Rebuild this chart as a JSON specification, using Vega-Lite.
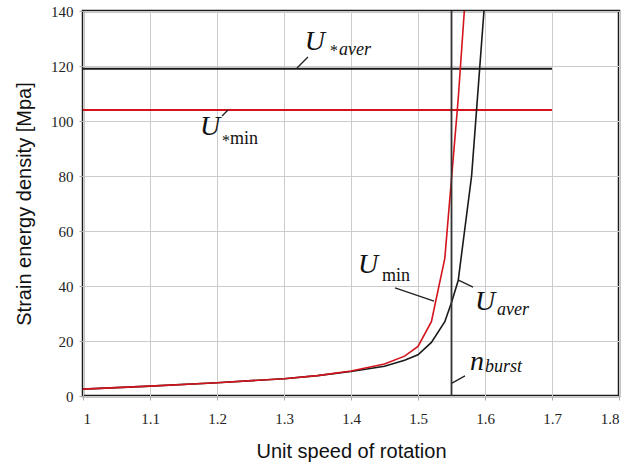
{
  "$schema": "https://vega.github.io/schema/vega-lite/v6.json",
  "width": 536,
  "height": 385,
  "autosize": "none",
  "padding": {"left": 83, "top": 11, "right": 19, "bottom": 71},
  "background": "white",
  "config": {
    "font": "Liberation Serif",
    "view": {"stroke": "#1a1a1a", "strokeWidth": 2.5},
    "axis": {"labelFont": "Liberation Serif", "titleFont": "Liberation Sans"}
  },
  "datasets": {
    "curves": [
      {"n": 1.0, "U": 2.5, "s": "aver"},
      {"n": 1.1, "U": 3.6, "s": "aver"},
      {"n": 1.2, "U": 4.8, "s": "aver"},
      {"n": 1.3, "U": 6.3, "s": "aver"},
      {"n": 1.35, "U": 7.4, "s": "aver"},
      {"n": 1.4, "U": 8.9, "s": "aver"},
      {"n": 1.45, "U": 10.8, "s": "aver"},
      {"n": 1.48, "U": 13.0, "s": "aver"},
      {"n": 1.5, "U": 15.0, "s": "aver"},
      {"n": 1.52, "U": 19.5, "s": "aver"},
      {"n": 1.54, "U": 27.0, "s": "aver"},
      {"n": 1.55, "U": 34.0, "s": "aver"},
      {"n": 1.56, "U": 42.0, "s": "aver"},
      {"n": 1.58, "U": 80.0, "s": "aver"},
      {"n": 1.6, "U": 145.0, "s": "aver"},
      {"n": 1.0, "U": 2.5, "s": "min"},
      {"n": 1.1, "U": 3.6, "s": "min"},
      {"n": 1.2, "U": 4.8, "s": "min"},
      {"n": 1.3, "U": 6.3, "s": "min"},
      {"n": 1.35, "U": 7.4, "s": "min"},
      {"n": 1.4, "U": 9.1, "s": "min"},
      {"n": 1.45, "U": 11.6, "s": "min"},
      {"n": 1.48, "U": 14.5, "s": "min"},
      {"n": 1.5, "U": 18.0, "s": "min"},
      {"n": 1.52, "U": 27.0, "s": "min"},
      {"n": 1.54, "U": 50.0, "s": "min"},
      {"n": 1.56, "U": 108.0, "s": "min"},
      {"n": 1.572, "U": 150.0, "s": "min"}
    ],
    "hlines": [
      {"x": 1.0, "x2": 1.7, "y": 119, "s": "aver"},
      {"x": 1.0, "x2": 1.7, "y": 104, "s": "min"}
    ],
    "leaders": [
      {"x": 1.3194, "y": 119.3, "x2": 1.3358, "y2": 123.3},
      {"x": 1.2164, "y": 104.0, "x2": 1.2075, "y2": 101.8},
      {"x": 1.4657, "y": 39.3, "x2": 1.5239, "y2": 34.5},
      {"x": 1.5597, "y": 42.2, "x2": 1.5821, "y2": 39.6},
      {"x": 1.5507, "y": 4.7, "x2": 1.5701, "y2": 7.3}
    ],
    "bigLetters": [
      {"x": 1.331, "y": 125.8, "t": "U"},
      {"x": 1.1746, "y": 94.9, "t": "U"},
      {"x": 1.4104, "y": 44.7, "t": "U"},
      {"x": 1.585, "y": 31.3, "t": "U"},
      {"x": 1.5776, "y": 9.45, "t": "n"}
    ],
    "subItalic": [
      {"x": 1.382, "y": 124.0, "t": "aver"},
      {"x": 1.618, "y": 29.5, "t": "aver"},
      {"x": 1.6, "y": 8.7, "t": "burst"}
    ],
    "subRoman": [
      {"x": 1.2194, "y": 91.6, "t": "min"},
      {"x": 1.4463, "y": 41.8, "t": "min"}
    ],
    "stars": [
      {"x": 1.3687, "y": 123.5, "t": "*"},
      {"x": 1.2075, "y": 91.0, "t": "*"}
    ]
  },
  "encoding": {
    "x": {
      "type": "quantitative",
      "scale": {"domain": [1, 1.8], "nice": false},
      "axis": {
        "title": "Unit speed of rotation", "values": [1, 1.1, 1.2, 1.3, 1.4, 1.5, 1.6, 1.7, 1.8],
        "format": "~g", "labelFont": "Liberation Serif", "labelFontSize": 15, "labelColor": "#222",
        "titleFont": "Liberation Sans", "titleFontSize": 20, "titleFontWeight": "normal", "titleColor": "#111",
        "gridColor": "#cccccc", "domain": false, "tickColor": "#aaa", "tickSize": 4,
        "labelPadding": 11, "titlePadding": 15
      }
    },
    "y": {
      "type": "quantitative",
      "scale": {"domain": [0, 140], "nice": false},
      "axis": {
        "title": "Strain energy density [Mpa]", "values": [0, 20, 40, 60, 80, 100, 120, 140],
        "labelFont": "Liberation Serif", "labelFontSize": 15, "labelColor": "#222",
        "titleFont": "Liberation Sans", "titleFontSize": 20, "titleFontWeight": "normal", "titleColor": "#111",
        "gridColor": "#cccccc", "domain": false, "tickColor": "#aaa", "tickSize": 4,
        "labelPadding": 6, "titlePadding": 16
      }
    }
  },
  "layer": [
    {
      "data": {"name": "hlines"},
      "mark": {"type": "rule", "strokeWidth": 2},
      "encoding": {
        "x": {"field": "x", "type": "quantitative"},
        "x2": {"field": "x2"},
        "y": {"field": "y", "type": "quantitative"},
        "color": {"field": "s", "type": "nominal", "scale": {"domain": ["min", "aver"], "range": ["#d3141c", "#1a1a1a"]}, "legend": null}
      }
    },
    {
      "data": {"name": "curves"},
      "transform": [{"filter": "datum.s == 'aver'"}],
      "mark": {"type": "line", "clip": true, "strokeWidth": 1.6},
      "encoding": {
        "x": {"field": "n", "type": "quantitative"},
        "y": {"field": "U", "type": "quantitative"},
        "color": {"field": "s", "type": "nominal", "legend": null}
      }
    },
    {
      "data": {"name": "curves"},
      "transform": [{"filter": "datum.s == 'min'"}],
      "mark": {"type": "line", "clip": true, "strokeWidth": 1.6},
      "encoding": {
        "x": {"field": "n", "type": "quantitative"},
        "y": {"field": "U", "type": "quantitative"},
        "color": {"field": "s", "type": "nominal", "legend": null}
      }
    },
    {
      "data": {"values": [{"x": 1.55, "y": 0, "y2": 140}]},
      "mark": {"type": "rule", "strokeWidth": 1.8, "color": "#333333"},
      "encoding": {
        "x": {"field": "x", "type": "quantitative"},
        "y": {"field": "y", "type": "quantitative"},
        "y2": {"field": "y2"}
      }
    },
    {
      "data": {"name": "leaders"},
      "mark": {"type": "rule", "strokeWidth": 1.3, "color": "#222222"},
      "encoding": {
        "x": {"field": "x", "type": "quantitative"},
        "y": {"field": "y", "type": "quantitative"},
        "x2": {"field": "x2"},
        "y2": {"field": "y2"}
      }
    },
    {
      "data": {"name": "bigLetters"},
      "mark": {"type": "text", "font": "Liberation Serif", "fontStyle": "italic", "fontSize": 28, "align": "left", "baseline": "alphabetic", "color": "#111111"},
      "encoding": {
        "x": {"field": "x", "type": "quantitative"},
        "y": {"field": "y", "type": "quantitative"},
        "text": {"field": "t"}
      }
    },
    {
      "data": {"name": "subItalic"},
      "mark": {"type": "text", "font": "Liberation Serif", "fontStyle": "italic", "fontSize": 18, "align": "left", "baseline": "alphabetic", "color": "#111111"},
      "encoding": {
        "x": {"field": "x", "type": "quantitative"},
        "y": {"field": "y", "type": "quantitative"},
        "text": {"field": "t"}
      }
    },
    {
      "data": {"name": "subRoman"},
      "mark": {"type": "text", "font": "Liberation Serif", "fontSize": 18, "align": "left", "baseline": "alphabetic", "color": "#111111"},
      "encoding": {
        "x": {"field": "x", "type": "quantitative"},
        "y": {"field": "y", "type": "quantitative"},
        "text": {"field": "t"}
      }
    },
    {
      "data": {"name": "stars"},
      "mark": {"type": "text", "font": "Liberation Serif", "fontSize": 16, "align": "left", "baseline": "alphabetic", "color": "#111111"},
      "encoding": {
        "x": {"field": "x", "type": "quantitative"},
        "y": {"field": "y", "type": "quantitative"},
        "text": {"field": "t"}
      }
    }
  ]
}
